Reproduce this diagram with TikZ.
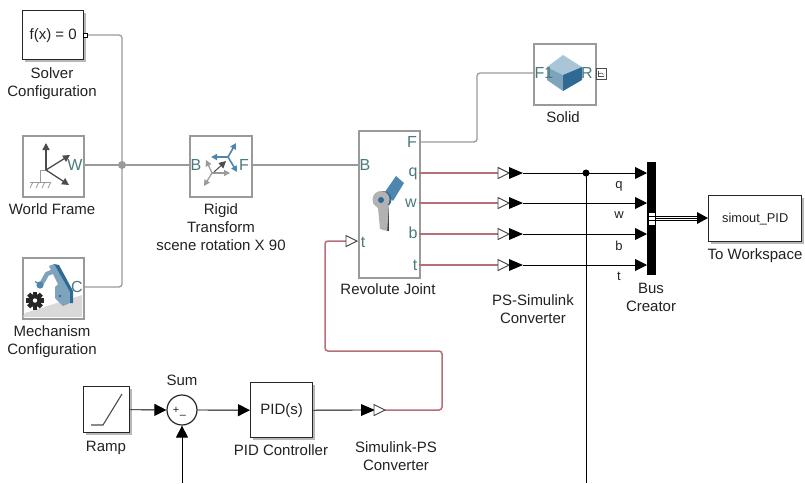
\documentclass[tikz,border=0pt]{standalone}
\usepackage{fontspec}
\setmainfont{Liberation Sans}
\usetikzlibrary{arrows.meta}
\definecolor{physgray}{HTML}{9A9A9A}
\definecolor{conred}{HTML}{B56F77}
\definecolor{porttxt}{HTML}{4B7A7A}
\definecolor{txtcol}{HTML}{222222}
\definecolor{blueA}{HTML}{A9C6D8}
\definecolor{blueB}{HTML}{7EA3BD}
\definecolor{blueC}{HTML}{2F6A94}
\definecolor{blueD}{HTML}{4F86AE}
\tikzset{
  x=1pt,y=-1pt,
  lbl/.style={inner sep=0pt,align=center,text=txtcol,font=\fontsize{15}{18}\selectfont},
  sig/.style={inner sep=0pt,text=txtcol,font=\fontsize{13}{15}\selectfont},
  porttext/.style={inner sep=0pt,text=porttxt,font=\fontsize{16}{18}\selectfont},
  physbox/.style={draw=physgray,line width=1.5pt,fill=white,inner sep=0pt,anchor=north west},
  sigbox/.style={draw=black!85,line width=1.4pt,fill=white,inner sep=0pt,anchor=north west,text=txtcol,font=\fontsize{15}{18}\selectfont},
  shadowbox/.style={fill=black!28,draw=none},
  conn/.style={draw=physgray,line width=1.3pt,rounded corners=3pt},
  redconn/.style={draw=conred,line width=1.5pt,rounded corners=3pt},
  bsig/.style={draw=black,line width=0.9pt,-{Triangle[length=12pt,width=12pt]}},
  bline/.style={draw=black,line width=0.9pt},
  hollow/.style={draw=black!75,line width=0.9pt,fill=white},
  filled/.style={fill=black,draw=none},
  dotb/.style={circle,fill=black,inner sep=0pt,minimum size=7pt},
  dotg/.style={circle,fill=physgray,inner sep=0pt,minimum size=8pt},
  gicon/.style={draw=physgray,line width=1.2pt,-{Triangle[length=6pt,width=6pt]}},
  dicon/.style={draw=black!70,line width=1.3pt,-{Triangle[length=7pt,width=7pt]}},
  bicon/.style={draw=blueD,line width=1.6pt,-{Triangle[length=6pt,width=6pt]}},
}
\newcommand{\hollowtri}[2]{\draw[hollow] (#1,#2-5.5) -- (#1+11,#2) -- (#1,#2+5.5) -- cycle;}
\newcommand{\filledtri}[2]{\fill[filled] (#1,#2-6) -- (#1+14,#2) -- (#1,#2+6) -- cycle;}
\begin{document}
\begin{tikzpicture}
\useasboundingbox (0,0) rectangle (805,483);
\fill[white] (0,0) rectangle (805,483);

% ---------- signal-box shadows
\fill[shadowbox] (25,13) rectangle (85.5,61.5);
\fill[shadowbox] (86,389) rectangle (131.5,434.5);
\fill[shadowbox] (253,385) rectangle (314.5,439.5);
\fill[shadowbox] (711,198) rectangle (803.5,243.5);

% ---------- blocks
\node[sigbox,minimum width=61pt,minimum height=49pt] (solver) at (22,10) {f(x) = 0};
\node[physbox,minimum width=61pt,minimum height=61pt] (world) at (22,135) {};
\node[physbox,minimum width=61pt,minimum height=61pt] (mech) at (22,257) {};
\node[physbox,minimum width=62pt,minimum height=61pt] (rigid) at (189,135) {};
\node[physbox,minimum width=61pt,minimum height=147pt] (rev) at (358,130) {};
\node[physbox,minimum width=62pt,minimum height=61pt] (solid) at (533,43) {};
\node[sigbox,minimum width=46pt,minimum height=46pt] (ramp) at (83,386) {};
\node[sigbox,minimum width=62pt,minimum height=55pt] (pid) at (250,382) {PID(s)};
\node[sigbox,minimum width=93pt,minimum height=46pt,font=\fontsize{12.8}{15}\selectfont] (work) at (708,195) {simout\_PID};
\node[fill=black,inner sep=0pt,minimum width=9pt,minimum height=113pt,anchor=north west] (bus) at (647,162) {};
\node[circle,draw=black!85,line width=1.2pt,fill=white,minimum size=30pt,inner sep=0pt] (sum) at (182,410) {};

% ---------- named ports
\coordinate (pSolver) at (88,35);
\coordinate (pWorld) at (83,165);
\coordinate (pMech) at (83,287);
\coordinate (pRigidB) at (189,165);
\coordinate (pRigidF) at (251,165);
\coordinate (pRevB) at (358,165);
\coordinate (pRevF) at (419,142);
\coordinate (pSolid) at (533,73);
\coordinate (jn) at (122,165);
\coordinate (pQ) at (419,173);
\coordinate (pW) at (419,203);
\coordinate (pB) at (419,234);
\coordinate (pT) at (419,265);
\coordinate (busQ) at (647,173);
\coordinate (busW) at (647,203);
\coordinate (busB) at (647,234);
\coordinate (busT) at (647,265);
\coordinate (scopeJ) at (586,173);
\coordinate (scopeEnd) at (586,483);
\coordinate (sumEnd) at (182,483);

% ---------- physical connections
\draw[conn] (pSolver) -- (122,35) -- (122,287) -- (pMech);
\draw[conn] (pWorld) -- (pRigidB);
\draw[conn] (pRigidF) -- (pRevB);
\draw[conn] (pRevF) -- (477,142) -- (477,73) -- (pSolid);
\node[dotg] (jdot) at (jn) {};
\draw[black,line width=0.9pt,fill=white] (83,33) rectangle (87,37);

% ---------- red PS lines
\draw[redconn] (pQ) -- (498,173);
\draw[redconn] (pW) -- (498,203);
\draw[redconn] (pB) -- (498,234);
\draw[redconn] (pT) -- (498,265);
\draw[redconn] (385,410) -- (442,410) -- (442,351) -- (325,351) -- (325,241) -- (346,241);

% ---------- PS-Simulink converters
\foreach \yy in {173,203,234,265}{
  \hollowtri{498}{\yy}
  \filledtri{509}{\yy}
}
\draw[bsig] (523,173) -- (busQ);
\draw[bsig] (523,203) -- (busW);
\draw[bsig] (523,234) -- (busB);
\draw[bsig] (523,265) -- (busT);
\draw[bline] (scopeJ) -- (scopeEnd);
\node[dotb] (sdot) at (scopeJ) {};

% ---------- t input
\hollowtri{346}{241}

% ---------- bus out
\draw[black,line width=0.7pt] (656,216) -- (698,216);
\draw[black,line width=0.7pt] (656,218) -- (698,218);
\draw[black,line width=0.7pt] (656,220) -- (698,220);
\fill[black] (697,212) -- (708,218) -- (697,224) -- cycle;
\fill[white] (648.5,212.5) rectangle (654.5,225);
\draw[black,line width=0.5pt] (648.5,216.5) -- (654.5,216.5) (648.5,220.5) -- (654.5,220.5);

% ---------- lower loop
\draw[bsig] (ramp.east) -- (sum.west);
\draw[bsig] (sum.east) -- (pid.west);
\draw[bsig] (sumEnd) -- (sum.south);
\draw[bline] (pid.east) -- (362,410);
\filledtri{361}{410}
\hollowtri{374}{410}
\node[inner sep=0pt,font=\fontsize{11}{11}\selectfont,text=txtcol] (plus) at (176,410) {+};
\node[inner sep=0pt,font=\fontsize{11}{11}\selectfont,text=txtcol] (minus) at (183,417) {–};

% ---------- ramp icon
\draw[black!70,line width=1.1pt] (91,425) -- (103,425) -- (122,394);

% ---------- world frame icon
\draw[physgray,line width=1pt] (46,170) -- (40,170) -- (40,182);
\draw[physgray,line width=1pt] (30,182) -- (50,182);
\foreach \xx in {33,39,45,51}{\draw[physgray,line width=0.8pt] (\xx,182) -- (\xx-3,188);}
\draw[dicon] (46,170) -- (46,143);
\draw[dicon] (46,170) -- (70,155);
\draw[dicon] (46,170) -- (69,185);
\node[porttext] (wW) at (75,165) {W};

% ---------- mechanism icon
\fill[black!15] (25,313) -- (82.2,295) -- (82.2,317) -- (23,317) -- cycle;
\draw[blueB,line width=4.5pt,line cap=round] (54,271) -- (47,274) -- (42,283);
\fill[blueD] (40,285) circle (3.6);
\draw[blueD,line width=1.2pt] (35,281.5) -- (39,284);
\fill[blueB] (49,266) -- (54,264) -- (70,292) -- (70,303) -- (63,306) -- (55,298) -- (55,287) -- (58,284) -- cycle;
\fill[blueC] (54,264) -- (59,265) -- (73,291) -- (73,303) -- (70,303) -- (70,292) -- cycle;
\fill[blueC] (60,296) circle (1.3);
\fill[black!85] (35,300.5) circle (6.5);
\foreach \an in {0,45,...,315}{\fill[black!85,rotate around={\an:(35,300.5)}] (32.8,291.5) rectangle (37.2,296);}
\fill[white] (35,300.5) circle (2.2);
\node[porttext] (cC) at (77,287) {C};

% ---------- rigid transform icon
\draw[gicon] (212,173) -- (206,160);
\draw[gicon] (212,173) -- (204,186);
\draw[gicon] (212,173) -- (230,173);
\draw[dicon,line width=1pt] (214,172) -- (226,161);
\draw[bicon] (228,157) -- (236,143);
\draw[bicon] (228,157) -- (211,157);
\draw[bicon] (228,157) -- (237,172);
\node[porttext] (rB) at (196,165) {B};
\node[porttext] (rF) at (244,165) {F};

% ---------- revolute icon
\fill[blueD] (385,192) -- (396,176) -- (404,183) -- (393,201) -- cycle;
\fill[black!75] (387,205) rectangle (389.2,231);
\fill[blueC] (383,199.5) circle (8.5);
\fill[black!30] (373,203) -- (389,205) -- (387.2,231) -- (380,229) -- (378,208) -- cycle;
\fill[black!30] (381,199.5) circle (8.5);
\fill[blueC] (381,200) circle (3);
\node[porttext] (rvB) at (365,165) {B};
\node[porttext] (rvF) at (412,142) {F};
\node[porttext] (rvq) at (413,174) {q};
\node[porttext] (rvw) at (411,203) {w};
\node[porttext] (rvb) at (413,233) {b};
\node[porttext] (rvt) at (415,265) {t};
\node[porttext] (rvi) at (363,242) {t};

% ---------- solid icon
\fill[blueA] (563,55) -- (582,67) -- (563,75) -- (547,67) -- cycle;
\fill[blueB] (547,67) -- (563,75) -- (563,91) -- (547,80) -- cycle;
\fill[blueC] (582,67) -- (563,75) -- (563,91) -- (582,80) -- cycle;
\node[porttext] (sF) at (544,73) {F1};
\node[porttext] (sR) at (587,73) {R};
\draw[black!70,line width=1pt,fill=white] (596,68) rectangle (606,79);
\draw[black!70,line width=0.6pt] (598.5,71) -- (598.5,76.5) -- (604,76.5) (598.5,74) -- (601.5,73) -- (603.5,74.5);

% ---------- labels
\node[lbl] (tSolver) at (52,84) {Solver\\Configuration};
\node[lbl] (tWorld) at (52,209) {World Frame};
\node[lbl] (tMech) at (52,342) {Mechanism\\Configuration};
\node[lbl] (tRigid) at (221,227) {Rigid\\Transform\\scene rotation X 90};
\node[lbl] (tRev) at (388,289) {Revolute Joint};
\node[lbl] (tSolid) at (563,117) {Solid};
\node[lbl] (tPS) at (533,309) {PS-Simulink\\Converter};
\node[lbl] (tBus) at (651,297.5) {Bus\\Creator};
\node[lbl] (tWork) at (755,256) {To Workspace};
\node[lbl] (tRamp) at (106,448) {Ramp};
\node[lbl] (tSum) at (182,380) {Sum};
\node[lbl] (tPID) at (281,450) {PID Controller};
\node[lbl] (tSP) at (396,456) {Simulink-PS\\Converter};
\node[sig] (sq) at (619,186.5) {q};
\node[sig] (sw) at (619,215) {w};
\node[sig] (sb) at (619,245.5) {b};
\node[sig] (st) at (619,276) {t};
\end{tikzpicture}
\end{document}
